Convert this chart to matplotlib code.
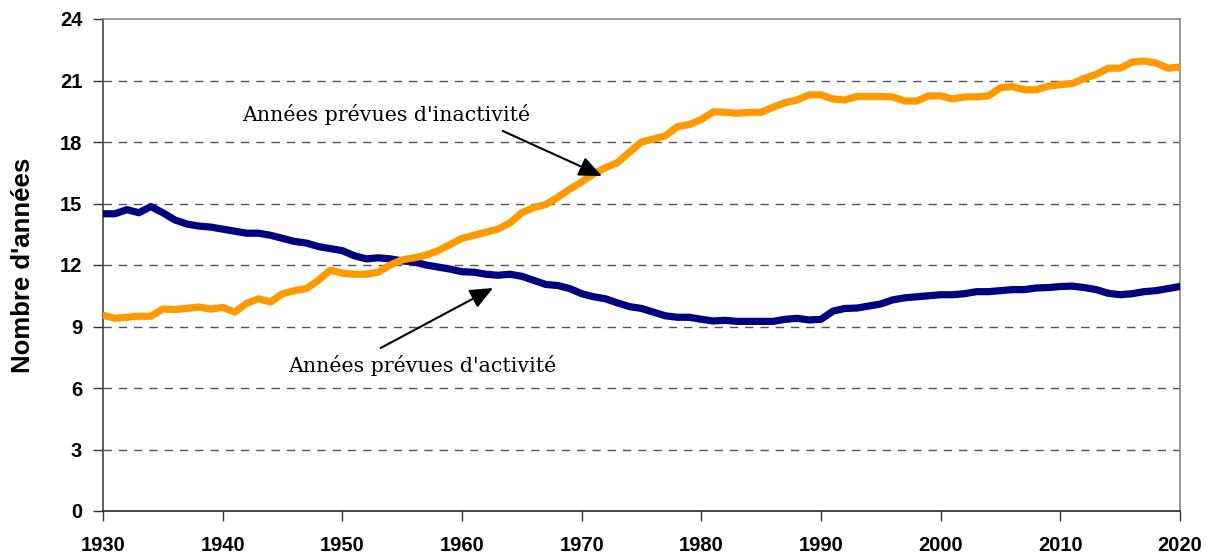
import matplotlib
matplotlib.use("Agg")
import matplotlib.pyplot as plt
from matplotlib import font_manager as fm
import numpy as np

years = list(range(1930, 2021))
activite = [14.5, 14.5, 14.7, 14.55, 14.85, 14.55, 14.2, 14.0, 13.9, 13.85,
            13.75, 13.65, 13.55, 13.55, 13.45, 13.3, 13.15, 13.07, 12.9, 12.8,
            12.7, 12.45, 12.3, 12.35, 12.3, 12.2, 12.15, 12.0, 11.9, 11.8,
            11.67, 11.65, 11.55, 11.5, 11.55, 11.45, 11.25, 11.05, 11.0, 10.85,
            10.6, 10.45, 10.35, 10.15, 9.97, 9.88, 9.7, 9.52, 9.45, 9.45,
            9.35, 9.27, 9.3, 9.25, 9.25, 9.25, 9.25, 9.35, 9.4, 9.32,
            9.35, 9.75, 9.88, 9.9, 10.0, 10.1, 10.3, 10.4, 10.45, 10.5,
            10.55, 10.55, 10.6, 10.7, 10.7, 10.75, 10.8, 10.8, 10.88, 10.9,
            10.95, 10.97, 10.9, 10.8, 10.62, 10.55, 10.6, 10.7, 10.75, 10.85,
            10.95]
inactivite = [9.55, 9.4, 9.45, 9.5, 9.5, 9.85, 9.83, 9.88, 9.95, 9.85,
              9.93, 9.7, 10.13, 10.35, 10.2, 10.6, 10.75, 10.85, 11.25, 11.75,
              11.6, 11.55, 11.55, 11.65, 12.0, 12.25, 12.35, 12.48, 12.7, 13.0,
              13.3, 13.45, 13.6, 13.75, 14.05, 14.55, 14.8, 14.95, 15.3, 15.7,
              16.05, 16.45, 16.75, 17.0, 17.5, 18.0, 18.15, 18.3, 18.75, 18.85,
              19.1, 19.47, 19.45, 19.4, 19.45, 19.45, 19.7, 19.92, 20.05, 20.3,
              20.3, 20.1, 20.05, 20.22, 20.22, 20.22, 20.2, 20.0, 20.0, 20.25,
              20.25, 20.1, 20.2, 20.2, 20.25, 20.65, 20.7, 20.55, 20.55, 20.72,
              20.8, 20.85, 21.1, 21.3, 21.6, 21.6, 21.9, 21.95, 21.85, 21.6,
              21.65]
x_ticks = [1930, 1940, 1950, 1960, 1970, 1980, 1990, 2000, 2010, 2020]
y_ticks = [0, 3, 6, 9, 12, 15, 18, 21, 24]
label_inact = "Années prévues d'inactivité"
label_act = "Années prévues d'activité"
y_label = "Nombre d'années"

bold_path = None
for f in fm.findSystemFonts():
    if f.split("/")[-1] == "LiberationSans-Bold.ttf":
        bold_path = f
        break
if bold_path:
    bold_fp = lambda size: fm.FontProperties(fname=bold_path, size=size)
else:
    bold_fp = lambda size: fm.FontProperties(family="DejaVu Sans", weight="bold", size=size)

fig = plt.figure(figsize=(12.08, 5.54), dpi=100)
ax = fig.add_axes([103/1208, 43/554, 1077/1208, 492/554])

for y in y_ticks[1:-1]:
    ax.axhline(y, color="#555555", lw=1.0, ls=(0, (6, 5)), zorder=1)

ax.plot(years, activite, color="#000080", lw=5.2, solid_capstyle="round",
        solid_joinstyle="round", zorder=3)
ax.plot(years, inactivite, color="#FF9900", lw=5.2, solid_capstyle="round",
        solid_joinstyle="round", zorder=3)

ax.set_xlim(1930, 2020)
ax.set_ylim(0, 24)
ax.set_xticks(x_ticks)
ax.set_yticks(y_ticks)
ax.tick_params(axis="both", direction="out", length=7, width=1, color="#333333")
ax.tick_params(axis="y", pad=8)
ax.tick_params(axis="x", pad=11)
for lab in ax.get_xticklabels() + ax.get_yticklabels():
    lab.set_fontproperties(bold_fp(14.5))

ax.spines["bottom"].set_color("#222222")
ax.spines["left"].set_color("#444444")
ax.spines["top"].set_color("#888888")
ax.spines["right"].set_color("#888888")
for s in ax.spines.values():
    s.set_linewidth(1.2)

ax.set_ylabel(y_label, fontproperties=bold_fp(18.5), labelpad=18)

arrowprops = dict(arrowstyle="-|>,head_length=1.4,head_width=0.6", color="black",
                  lw=1.5, shrinkA=0, shrinkB=0)
ax.text(1941.6, 19.32, label_inact, fontsize=14.8, family="DejaVu Serif",
        va="center", ha="left", zorder=5)
ax.annotate("", xy=(1971.7, 16.34), xytext=(1963.4, 18.54),
            arrowprops=arrowprops, zorder=5)
ax.text(1945.5, 7.12, label_act, fontsize=14.8, family="DejaVu Serif",
        va="center", ha="left", zorder=5)
ax.annotate("", xy=(1962.6, 10.88), xytext=(1953.2, 7.95),
            arrowprops=arrowprops, zorder=5)

fig.savefig("out.png", dpi=100)
